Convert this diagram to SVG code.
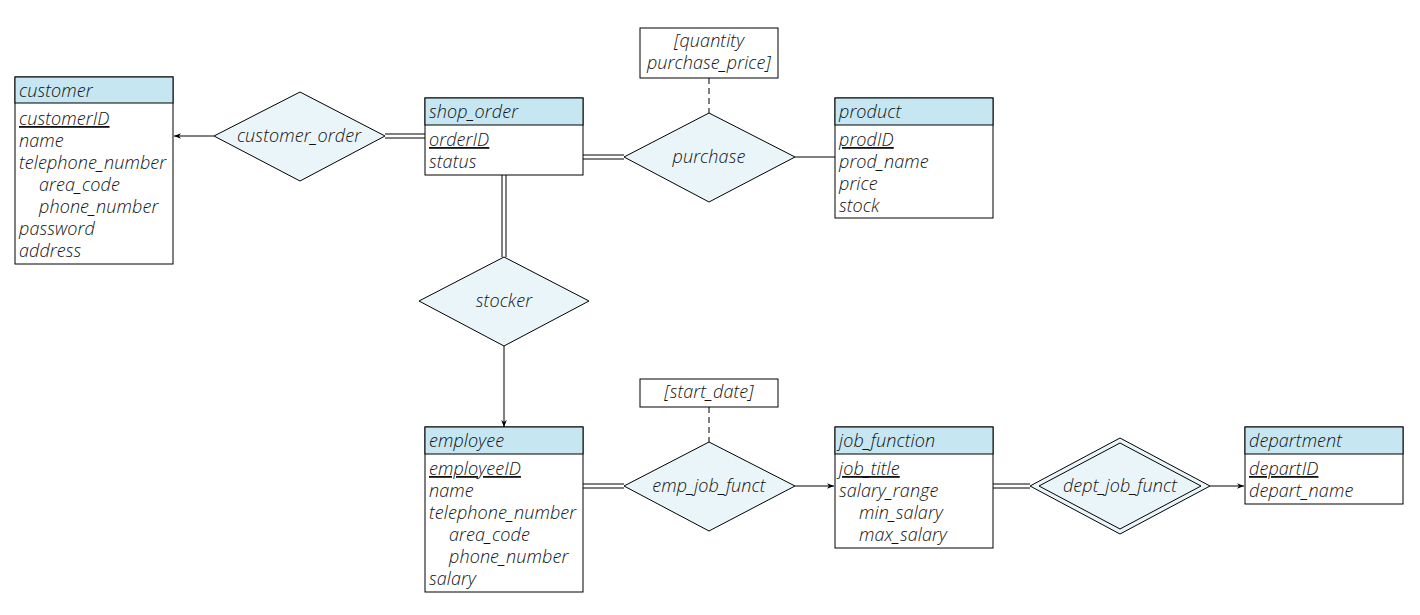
<svg xmlns="http://www.w3.org/2000/svg" width="1420" height="615" viewBox="0 0 1420 615">
<defs>
<style>
text{font-family:"Open Sans","Lato","Liberation Sans",sans-serif;font-style:italic;font-weight:300;font-size:18px;letter-spacing:0.1px;fill:#111}
.hd{fill:#c6e7f1;stroke:#000;stroke-width:1}
.bd{fill:#fff;stroke:#000;stroke-width:1}
.dm{fill:#eaf5fa;stroke:#000;stroke-width:1}
.ln{fill:none;stroke:#000;stroke-width:1}
.ds{fill:none;stroke:#000;stroke-width:1;stroke-dasharray:6 4}
.mid{text-anchor:middle}
.u{text-decoration:underline}
</style>
<marker id="arr" viewBox="0 0 10 10" refX="10" refY="5" markerWidth="7" markerHeight="7" orient="auto" markerUnits="userSpaceOnUse">
<path d="M0,1 L10,5 L0,9 L3,5 Z" fill="#000"/>
</marker>
</defs>
<rect width="1420" height="615" fill="#fff"/>
<g id="connectors">
<line class="ln" x1="214" y1="136" x2="174" y2="136" marker-end="url(#arr)"/>
<line class="ln" x1="385" y1="134" x2="425" y2="134"/>
<line class="ln" x1="385" y1="138" x2="425" y2="138"/>
<line class="ln" x1="583" y1="155" x2="624" y2="155"/>
<line class="ln" x1="583" y1="159" x2="624" y2="159"/>
<line class="ln" x1="795" y1="157" x2="835" y2="157"/>
<line class="ds" x1="709" y1="78" x2="709" y2="113"/>
<line class="ln" x1="502" y1="175" x2="502" y2="257"/>
<line class="ln" x1="506" y1="175" x2="506" y2="257"/>
<line class="ln" x1="504" y1="346" x2="504" y2="427" marker-end="url(#arr)"/>
<line class="ln" x1="583" y1="484" x2="624" y2="484"/>
<line class="ln" x1="583" y1="488" x2="624" y2="488"/>
<line class="ln" x1="795" y1="486" x2="834" y2="486" marker-end="url(#arr)"/>
<line class="ds" x1="709" y1="407" x2="709" y2="442"/>
<line class="ln" x1="993" y1="484" x2="1030" y2="484"/>
<line class="ln" x1="993" y1="488" x2="1030" y2="488"/>
<line class="ln" x1="1210" y1="486" x2="1244" y2="486" marker-end="url(#arr)"/>
</g>
<g id="customer">
<rect class="bd" x="15" y="77" width="158" height="187"/>
<rect class="hd" x="15" y="77" width="158" height="26"/>
<text x="19" y="97">customer</text>
<text x="19" y="125" class="u">customerID</text>
<text x="19" y="147">name</text>
<text x="19" y="169">telephone_number</text>
<text x="39" y="191">area_code</text>
<text x="39" y="213">phone_number</text>
<text x="19" y="235">password</text>
<text x="19" y="257">address</text>
</g>
<g id="customer_order">
<polygon class="dm" points="300,92 385,136 300,181 214,136"/>
<text x="299" y="142" class="mid">customer_order</text>
</g>
<g id="shop_order">
<rect class="bd" x="425" y="98" width="158" height="77"/>
<rect class="hd" x="425" y="98" width="158" height="27"/>
<text x="429" y="118">shop_order</text>
<text x="429" y="146" class="u">orderID</text>
<text x="429" y="168">status</text>
</g>
<g id="purchase_attr">
<rect class="bd" x="640" y="28" width="138" height="50"/>
<text x="709" y="47" class="mid">[quantity</text>
<text x="709" y="69" class="mid">purchase_price]</text>
</g>
<g id="purchase">
<polygon class="dm" points="709,113 795,157 709,202 624,157"/>
<text x="709" y="163" class="mid">purchase</text>
</g>
<g id="product">
<rect class="bd" x="835" y="98" width="158" height="120"/>
<rect class="hd" x="835" y="98" width="158" height="27"/>
<text x="839" y="118">product</text>
<text x="839" y="146" class="u">prodID</text>
<text x="839" y="168">prod_name</text>
<text x="839" y="190">price</text>
<text x="839" y="212">stock</text>
</g>
<g id="stocker">
<polygon class="dm" points="504,257 589,301 504,346 419,301"/>
<text x="504" y="307" class="mid">stocker</text>
</g>
<g id="employee">
<rect class="bd" x="425" y="427" width="158" height="165"/>
<rect class="hd" x="425" y="427" width="158" height="27"/>
<text x="429" y="447">employee</text>
<text x="429" y="475" class="u">employeeID</text>
<text x="429" y="497">name</text>
<text x="429" y="519">telephone_number</text>
<text x="449" y="541">area_code</text>
<text x="449" y="563">phone_number</text>
<text x="429" y="585">salary</text>
</g>
<g id="emp_job_attr">
<rect class="bd" x="640" y="379" width="138" height="28"/>
<text x="709" y="398" class="mid">[start_date]</text>
</g>
<g id="emp_job_funct">
<polygon class="dm" points="709,442 795,486 709,531 624,486"/>
<text x="709" y="492" class="mid">emp_job_funct</text>
</g>
<g id="job_function">
<rect class="bd" x="835" y="427" width="158" height="121"/>
<rect class="hd" x="835" y="427" width="158" height="27"/>
<text x="839" y="447">job_function</text>
<text x="839" y="475" style="text-decoration:underline dashed">job_title</text>
<text x="839" y="497">salary_range</text>
<text x="859" y="519">min_salary</text>
<text x="859" y="541">max_salary</text>
</g>
<g id="dept_job_funct">
<polygon class="dm" points="1120,438 1210,486 1120,534 1030,486"/>
<polygon class="ln" points="1120,443 1201,486 1120,529 1039,486"/>
<text x="1120" y="492" class="mid">dept_job_funct</text>
</g>
<g id="department">
<rect class="bd" x="1245" y="427" width="158" height="77"/>
<rect class="hd" x="1245" y="427" width="158" height="27"/>
<text x="1249" y="447">department</text>
<text x="1249" y="475" class="u">departID</text>
<text x="1249" y="497">depart_name</text>
</g>
</svg>
